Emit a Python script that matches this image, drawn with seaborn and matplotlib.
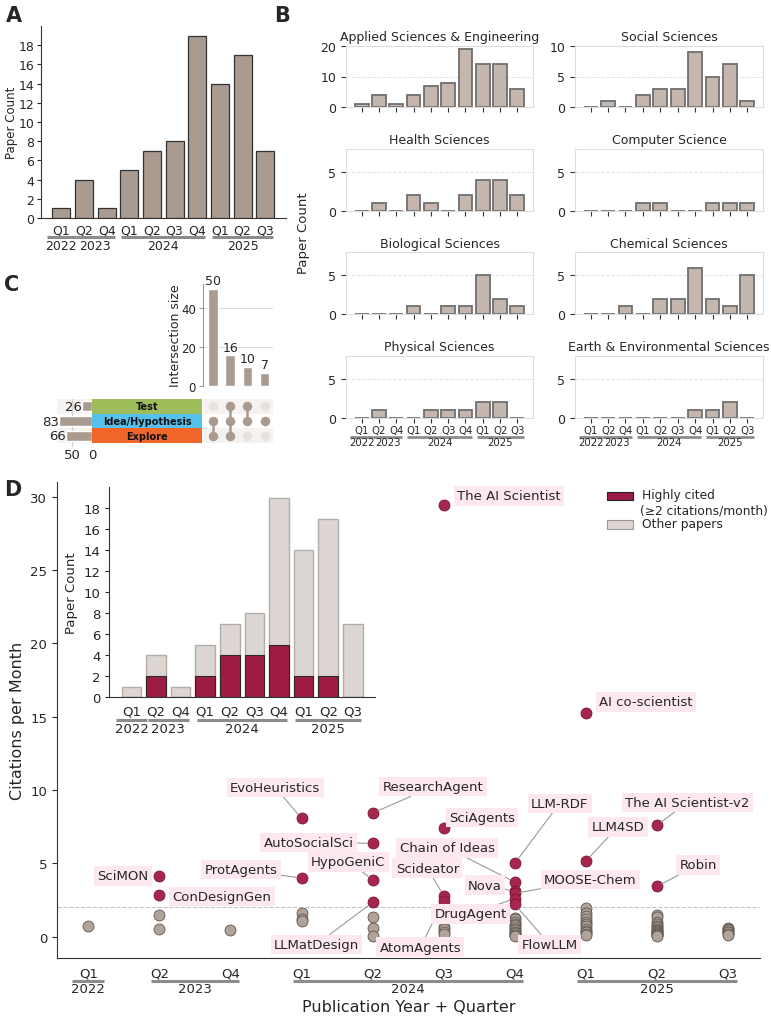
import numpy as np
import pandas as pd
import matplotlib
matplotlib.use("Agg")
import matplotlib.pyplot as plt
import seaborn as sns
from matplotlib.patches import Rectangle
from matplotlib.transforms import blended_transform_factory, ScaledTranslation

sns.set_style("ticks")
plt.rcParams["font.family"] = ["DejaVu Sans"]
plt.rcParams["axes.edgecolor"] = "#333333"

# ---------------- data ----------------
quarters = ["Q1", "Q2", "Q4", "Q1", "Q2", "Q3", "Q4", "Q1", "Q2", "Q3"]
years = ["2022", "2023", "2023", "2024", "2024", "2024", "2024", "2025", "2025", "2025"]
total_counts = [1, 4, 1, 5, 7, 8, 19, 14, 17, 7]
highly_cited_counts = [0, 2, 0, 2, 4, 4, 5, 2, 2, 0]

domain_names = ["Applied Sciences & Engineering", "Social Sciences", "Health Sciences",
                "Computer Science", "Biological Sciences", "Chemical Sciences",
                "Physical Sciences", "Earth & Environmental Sciences"]
applied_counts = [1, 4, 1, 4, 7, 8, 19, 14, 14, 6]
social_counts = [0, 1, 0, 2, 3, 3, 9, 5, 7, 1]
health_counts = [0, 1, 0, 2, 1, 0, 2, 4, 4, 2]
cs_counts = [0, 0, 0, 1, 1, 0, 0, 1, 1, 1]
bio_counts = [0, 0, 0, 1, 0, 1, 1, 5, 2, 1]
chem_counts = [0, 0, 1, 0, 2, 2, 6, 2, 1, 5]
phys_counts = [0, 1, 0, 0, 1, 1, 1, 2, 2, 0]
earth_counts = [0, 0, 0, 0, 0, 0, 1, 1, 2, 0]

set_names = ["Test", "Idea/Hypothesis", "Explore"]
set_sizes = [26, 83, 66]
set_colors = ["#9fbd5b", "#56c1ec", "#f0652a"]
intersection_sizes = [50, 16, 10, 7]
intersection_members = [["Idea/Hypothesis", "Explore"],
                        ["Test", "Idea/Hypothesis", "Explore"],
                        ["Test", "Idea/Hypothesis"],
                        ["Idea/Hypothesis"]]

paper_names = ["SciMON", "ConDesignGen", "EvoHeuristics", "ProtAgents", "ResearchAgent",
               "AutoSocialSci", "HypoGeniC", "LLMatDesign", "The AI Scientist", "SciAgents",
               "Scideator", "AtomAgents", "LLM-RDF", "Chain of Ideas", "Nova", "MOOSE-Chem",
               "DrugAgent", "FlowLLM", "AI co-scientist", "LLM4SD", "The AI Scientist-v2", "Robin"]
paper_quarter_idx = [1, 1, 3, 3, 4, 4, 4, 4, 5, 5, 5, 5, 6, 6, 6, 6, 6, 6, 7, 7, 8, 8]
paper_cpm = [4.15, 2.85, 8.07, 4.0, 8.43, 6.37, 3.9, 2.34, 29.45, 7.41, 2.8, 2.45,
             5.0, 3.73, 3.1, 2.95, 2.6, 2.2, 15.25, 5.16, 7.6, 3.43]

other_cpm_by_quarter = [
    [0.75],
    [1.5, 0.52],
    [0.45],
    [1.6, 1.2, 1.05],
    [1.37, 0.62, 0.03],
    [0.65, 0.5, 0.35, 0.2],
    [1.3, 1.2, 1.0, 0.9, 0.8, 0.65, 0.55, 0.45, 0.35, 0.25, 0.15, 0.1, 0.05],
    [1.98, 1.6, 1.4, 1.2, 1.0, 0.85, 0.7, 0.5, 0.4, 0.3, 0.2, 0.1],
    [1.5, 1.35, 1.0, 0.9, 0.75, 0.65, 0.55, 0.45, 0.4, 0.3, 0.25, 0.2, 0.15, 0.1, 0.05],
    [0.6, 0.5, 0.45, 0.35, 0.3, 0.2, 0.15],
]
threshold = 2
legend_labels = ["Highly cited", "(≥2 citations/month)", "Other papers"]

# label placement (layout, offsets from point in data units)
label_offsets = {
    "SciMON": (-0.51, 0.0), "ConDesignGen": (0.88, -0.1), "EvoHeuristics": (-0.37, 2.11),
    "ProtAgents": (-0.85, 0.57), "ResearchAgent": (0.85, 1.8), "AutoSocialSci": (-0.9, 0.06),
    "HypoGeniC": (-0.34, 1.21), "LLMatDesign": (-0.79, -2.86), "The AI Scientist": (0.92, 0.6),
    "SciAgents": (0.54, 0.73), "Scideator": (-0.23, 1.88), "AtomAgents": (-0.33, -3.17),
    "LLM-RDF": (0.63, 4.09), "Chain of Ideas": (-0.95, 2.32), "Nova": (-0.42, 0.42),
    "MOOSE-Chem": (1.06, 0.94), "DrugAgent": (-0.62, -1.05), "FlowLLM": (0.49, -2.72),
    "AI co-scientist": (0.84, 0.77), "LLM4SD": (0.45, 2.34),
    "The AI Scientist-v2": (0.43, 1.56), "Robin": (0.58, 1.48),
}
no_leader = {"SciMON", "ConDesignGen", "The AI Scientist", "SciAgents", "AI co-scientist"}

periods = [f"{y} {q}" for y, q in zip(years, quarters)]

# ---------------- styling ----------------
TAN = "#aa9b90"
TAN_LIGHT = "#c5b7ae"
RED = "#9e1c43"
RED_PT = "#a6264d"
GRAY_PT = "#b1a398"
LIGHT = "#ddd6d2"
PINK = "#fde8ef"

W, H = 771, 1020
fig = plt.figure(figsize=(W / 100, H / 100), dpi=100)


def add_ax(l, t, r, b):
    return fig.add_axes([l / W, 1 - b / H, (r - l) / W, (b - t) / H])


def fig_rect(l, t, r, b, **kw):
    fig.add_artist(Rectangle((l / W, 1 - b / H), (r - l) / W, (b - t) / H,
                             transform=fig.transFigure, **kw))


def bars(ax, values, **kw):
    df = pd.DataFrame({"period": periods, "value": values})
    sns.barplot(data=df, x="period", y="value", order=periods, saturation=1,
                errorbar=None, ax=ax, **kw)
    ax.set_xlabel("")
    ax.set_ylabel("")


def quarter_axis(ax, fs, pad, line_pt, year_pt, ticklen=0, lw=2.2):
    ax.set_xticks(range(len(quarters)))
    ax.set_xticklabels(quarters, fontsize=fs)
    ax.tick_params(axis="x", length=ticklen, pad=pad)
    fig.canvas.draw()
    rend = fig.canvas.get_renderer()
    ext = [t.get_window_extent(rend) for t in ax.get_xticklabels()]
    inv = ax.transData.inverted()
    base = blended_transform_factory(ax.transData, ax.transAxes)
    line_tr = base + ScaledTranslation(0, -line_pt / 72, fig.dpi_scale_trans)
    for yr in dict.fromkeys(years):
        idx = [i for i, y in enumerate(years) if y == yr]
        t = ax.annotate(yr, xy=(np.mean(idx), 0), xycoords=base, xytext=(0, -year_pt),
                        textcoords="offset points", ha="center", va="center",
                        fontsize=fs, annotation_clip=False)
        te = t.get_window_extent(rend)
        x0 = min([ext[i].x0 for i in idx] + [te.x0]) + 1
        x1 = max([ext[i].x1 for i in idx] + [te.x1]) - 1
        d0, d1 = inv.transform([[x0, 0], [x1, 0]])[:, 0]
        ax.plot([d0, d1], [0, 0], transform=line_tr, color="#8c8c8c", lw=lw,
                clip_on=False, solid_capstyle="butt")


# ---------------- Panel A ----------------
axA = add_ax(41, 27, 285.6, 219)
bars(axA, total_counts, color=TAN, edgecolor="#333333", linewidth=0.9, width=0.8)
axA.set_xlim(-0.9, 9.9)
axA.set_ylim(0, 20)
axA.set_yticks(range(0, 19, 2))
axA.tick_params(axis="y", labelsize=9, length=3, pad=2)
axA.set_ylabel("Paper Count", fontsize=8.5)
axA.yaxis.set_label_coords(-0.095, 0.5)
sns.despine(ax=axA)
quarter_axis(axA, 9, 4, 13.7, 20)

# ---------------- Panel B ----------------
domain_counts = [applied_counts, social_counts, health_counts, cs_counts,
                 bio_counts, chem_counts, phys_counts, earth_counts]
b_cols = [(346, 533), (575, 763)]
b_rows = [(46.7, 108.3), (150, 211.7), (253.3, 315), (357, 418.7)]
for k, (name, vals) in enumerate(zip(domain_names, domain_counts)):
    r, c = divmod(k, 2)
    ax = add_ax(b_cols[c][0], b_rows[r][0], b_cols[c][1], b_rows[r][1])
    bars(ax, vals, color=TAN_LIGHT, edgecolor="#6f6f6f", linewidth=1.3, width=0.8)
    ax.set_xlim(-0.9, 9.9)
    if k == 0:
        ax.set_ylim(0, 20)
        ax.set_yticks([0, 10, 20])
    elif k == 1:
        ax.set_ylim(0, 10)
        ax.set_yticks([0, 5, 10])
    else:
        ax.set_ylim(0, 8)
        ax.set_yticks([0, 5])
    ax.set_axisbelow(True)
    ax.yaxis.grid(True, ls="--", color="#e3e3e3", lw=0.7)
    for s in ax.spines.values():
        s.set_color("#dddddd")
        s.set_linewidth(0.8)
    ax.tick_params(axis="y", labelsize=9, length=3.5, color="#333333")
    ax.set_title(name, fontsize=9, pad=4)
    if r == 3:
        quarter_axis(ax, 7.3, 2.0, 13.7, 17.7, ticklen=3.5, lw=2.0)
        ax.tick_params(axis="x", color="#333333")
    else:
        ax.set_xticks(range(len(quarters)))
        ax.set_xticklabels([])
        ax.tick_params(axis="x", length=3.5, color="#333333")
fig.text(303 / W, 1 - 232.7 / H, "Paper Count", rotation=90, ha="center", va="center",
         fontsize=9.5)

# ---------------- Panel C (UpSet) ----------------
axI = add_ax(203, 285, 273.3, 387.3)
idf = pd.DataFrame({"inter": [f"I{i}" for i in range(len(intersection_sizes))],
                    "size": intersection_sizes})
sns.barplot(data=idf, x="inter", y="size", color=TAN, saturation=1, width=0.55,
            errorbar=None, ax=axI, zorder=3)
axI.set_xlim(-0.58, 3.5)
axI.set_ylim(0, 52.5)
axI.set_xticks([])
axI.set_xlabel("")
axI.set_yticks([0, 20, 40])
axI.tick_params(axis="y", labelsize=8.5, length=3, color="#999999", pad=2)
axI.yaxis.grid(True, color="#dddddd", lw=0.8)
axI.set_axisbelow(True)
for s in ["top", "right", "bottom"]:
    axI.spines[s].set_visible(False)
axI.spines["left"].set_color("#999999")
axI.spines["left"].set_linewidth(0.8)
axI.set_ylabel("Intersection size", fontsize=9)
axI.yaxis.set_label_coords(-0.30, 0.5)
for i, v in enumerate(intersection_sizes):
    axI.text(i, v + 0.8, str(v), ha="center", va="bottom", fontsize=9)

row_y = {"Test": 2, "Idea/Hypothesis": 1, "Explore": 0}

axM = add_ax(203, 400, 273.3, 444)
axM.set_xlim(-0.58, 3.5)
axM.set_ylim(-0.5, 2.5)
for nm in ["Test", "Explore"]:
    axM.axhspan(row_y[nm] - 0.5, row_y[nm] + 0.5, color="#f5f2f0", zorder=0, lw=0)
for i, mem in enumerate(intersection_members):
    ys_all = [row_y[n] for n in set_names]
    axM.scatter([i] * 3, ys_all, s=46, color="#e9e2de", zorder=2, lw=0)
    ys = [row_y[n] for n in mem]
    if len(ys) > 1:
        axM.plot([i, i], [min(ys), max(ys)], color=TAN, lw=1.8, zorder=3)
    axM.scatter([i] * len(ys), ys, s=46, color=TAN, zorder=4, lw=0)
axM.axis("off")

axL = add_ax(92.3, 400, 201.7, 444)
for nm, col in zip(set_names, set_colors):
    axL.barh(row_y[nm], 1, left=0, height=1, color=col, lw=0)
    axL.text(0.5, row_y[nm], nm, ha="center", va="center", fontsize=7.0,
             fontweight="bold", color="#111111")
axL.set_xlim(0, 1)
axL.set_ylim(-0.5, 2.5)
axL.axis("off")

axS = add_ax(57, 400, 92.3, 448)
for nm in ["Test", "Explore"]:
    axS.axhspan(row_y[nm] - 0.5, row_y[nm] + 0.5, color="#f5f2f0", zorder=0, lw=0)
axS.barh([row_y[n] for n in set_names], set_sizes, height=0.7, color=TAN, zorder=3)
for nm, v in zip(set_names, set_sizes):
    axS.text(v + 1, row_y[nm], str(v), ha="right", va="center", fontsize=9.5, zorder=4)
axS.set_xlim(89, 0)
axS.set_ylim(-0.77, 2.5)
axS.set_yticks([])
axS.set_xticks([50, 0])
axS.tick_params(axis="x", labelsize=9.5, length=0, pad=1)
axS.xaxis.grid(True, color="#cccccc", lw=0.8)
axS.set_axisbelow(True)
for s in axS.spines.values():
    s.set_visible(False)

# ---------------- Panel D ----------------
axD = add_ax(57, 483, 760, 959)
other_df = pd.DataFrame({
    "pos": [i for i, lst in enumerate(other_cpm_by_quarter) for _ in lst],
    "cpm": [v for lst in other_cpm_by_quarter for v in lst]})
named_df = pd.DataFrame({"pos": paper_quarter_idx, "cpm": paper_cpm, "name": paper_names})
axD.axhline(threshold, color="#c4c4c4", ls="--", lw=0.8, zorder=1)
sns.scatterplot(data=other_df, x="pos", y="cpm", color=GRAY_PT, edgecolor="#5e554f",
                linewidth=0.6, s=62, ax=axD, zorder=3, legend=False)
sns.scatterplot(data=named_df, x="pos", y="cpm", color=RED_PT, edgecolor="#7a1533",
                linewidth=0.6, s=62, ax=axD, zorder=3, legend=False)
axD.set_xlim(-0.44, 9.45)
axD.set_ylim(-1.45, 31)
axD.set_yticks(range(0, 31, 5))
axD.tick_params(axis="y", labelsize=9.5, length=3.5)
sns.despine(ax=axD)
axD.set_ylabel("Citations per Month", fontsize=11.5)
axD.set_xlabel("Publication Year + Quarter", fontsize=11.5)
for name, qi, v in zip(paper_names, paper_quarter_idx, paper_cpm):
    dx, dy = label_offsets[name]
    ap = None if name in no_leader else dict(arrowstyle="-", color="#9a9a9a", lw=0.8,
                                             shrinkA=0, shrinkB=4)
    axD.annotate(name, xy=(qi, v), xytext=(qi + dx, v + dy), ha="center", va="center",
                 fontsize=9.5, zorder=4,
                 bbox=dict(boxstyle="square,pad=0.25", fc=PINK, ec="none"),
                 arrowprops=ap)
quarter_axis(axD, 9.5, 6, 16.6, 22.3)
axD.xaxis.set_label_coords(0.5, -0.086)

# legend (manual, figure pixels)
fig_rect(607, 492.5, 633, 500.5, facecolor=RED, edgecolor="#222222", lw=0.8)
fig_rect(607, 521, 633, 529.5, facecolor=LIGHT, edgecolor="#999999", lw=0.8)
for txt, x, y in zip(legend_labels, [642, 640, 642], [496, 511.5, 525]):
    fig.text(x / W, 1 - y / H, txt, fontsize=8.8, ha="left", va="center")

# inset
axN = add_ax(109.3, 488, 375, 698.3)
bars(axN, total_counts, color=LIGHT, edgecolor="#b3aeaa", linewidth=1.0, width=0.8)
bars(axN, highly_cited_counts, color=RED, edgecolor="#2a2a2a", linewidth=0.8, width=0.8)
axN.set_xlim(-0.9, 9.9)
axN.set_ylim(0, 20)
axN.set_yticks(range(0, 19, 2))
axN.tick_params(axis="y", labelsize=9.5, length=3)
axN.set_ylabel("Paper Count", fontsize=9.5)
sns.despine(ax=axN)
quarter_axis(axN, 9.5, 5, 16.1, 22.3)

# panel letters
for letter, x, y in [("A", 6, 6), ("B", 274, 6), ("C", 4, 275), ("D", 4, 480)]:
    fig.text(x / W, 1 - y / H, letter, fontsize=15, fontweight="heavy", va="top", ha="left")

fig.savefig("out.png", dpi=100)
